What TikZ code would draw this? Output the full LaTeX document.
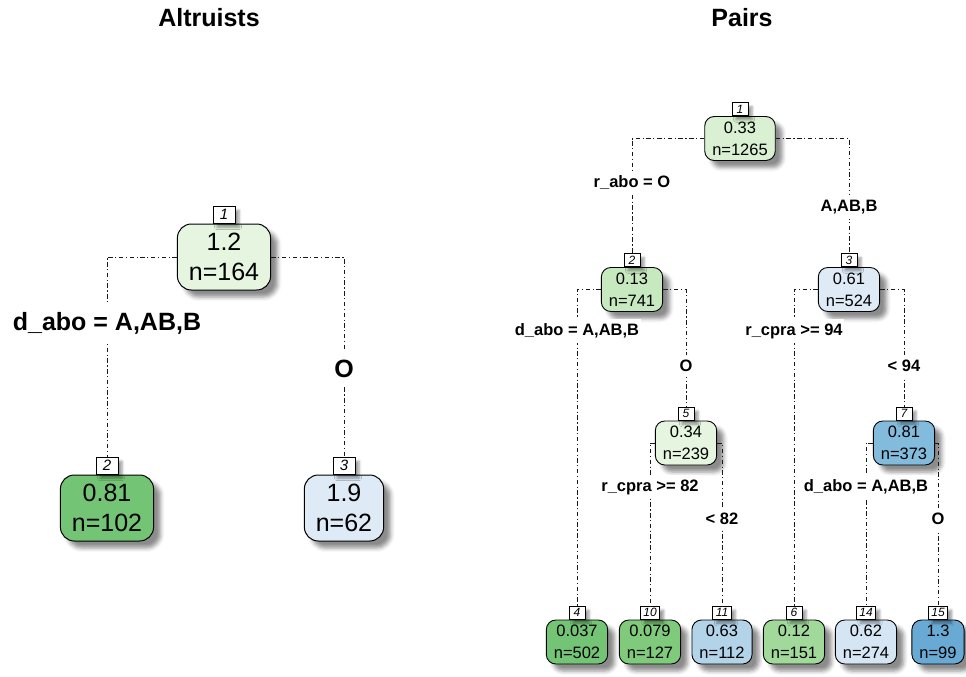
\documentclass[tikz,border=0pt]{standalone}
\usepackage{fontspec}
\setmainfont{Liberation Sans}
\usetikzlibrary{shadows.blur}

% node fills
\definecolor{cLroot}{HTML}{E5F5E0}
\definecolor{cLtwo}{HTML}{74C476}
\definecolor{cLthree}{HTML}{DEEBF7}
\definecolor{cRone}{HTML}{D9F0D3}
\definecolor{cRtwo}{HTML}{C7E9C0}
\definecolor{cRthree}{HTML}{DEEBF7}
\definecolor{cRfive}{HTML}{E5F5E0}
\definecolor{cRseven}{HTML}{82BBDB}
\definecolor{cRfour}{HTML}{74C476}
\definecolor{cRten}{HTML}{80CA7B}
\definecolor{cReleven}{HTML}{B3D3E8}
\definecolor{cRsix}{HTML}{A1D99B}
\definecolor{cRfourteen}{HTML}{D5E5F4}
\definecolor{cRfifteen}{HTML}{69AAD5}

\begin{document}
\begin{tikzpicture}[x=1pt,y=-1pt,
  boxshadow/.style={blur shadow={shadow xshift=7pt,shadow yshift=-7pt,
      shadow blur radius=4pt,shadow opacity=45}},
  numshadow/.style={blur shadow={shadow xshift=4pt,shadow yshift=-4pt,
      shadow blur radius=2.5pt,shadow opacity=40}},
  bigbox/.style={draw,line width=1pt,rounded corners=14pt,align=center,
      font=\fontsize{25}{30.5}\selectfont,inner xsep=11.5pt,inner ysep=0pt,
      minimum height=66pt,boxshadow},
  smallbox/.style={draw,line width=0.9pt,rounded corners=9.5pt,align=center,
      font=\fontsize{16.5}{22}\selectfont,inner xsep=7.5pt,inner ysep=0pt,
      minimum height=44pt,boxshadow},
  bignum/.style={draw,fill=white,line width=0.7pt,anchor=south,inner sep=0pt,
      font=\fontsize{15}{15}\selectfont\itshape,minimum width=22pt,
      minimum height=17pt,numshadow},
  smallnum/.style={draw,fill=white,line width=0.6pt,anchor=south,inner sep=0pt,
      font=\fontsize{12}{12}\selectfont\itshape,minimum width=16pt,
      minimum height=13pt,inner xsep=3pt,numshadow},
  conn/.style={draw=black!90,line width=0.9pt,
      dash pattern=on 4.5pt off 2.5pt on 1.2pt off 2.5pt},
  bigsplit/.style={fill=white,inner xsep=2pt,inner ysep=8pt,
      font=\fontsize{25}{25}\selectfont\bfseries},
  smallsplit/.style={fill=white,inner xsep=1.5pt,inner ysep=5pt,
      font=\fontsize{16.5}{16.5}\selectfont\bfseries},
  heading/.style={font=\fontsize{25}{25}\selectfont\bfseries,inner sep=0pt}
]
\useasboundingbox (0,0) rectangle (966,677);

% titles
\node[heading] (tAlt) at (209,18) {Altruists};
\node[heading] (tPairs) at (742,18) {Pairs};

% ---------- left tree ----------
\node[bigbox,fill=cLroot] (L1) at (224,257) {1.2\\n=164};
\node[bignum] (L1n) at (L1.north) {1};
\node[bigbox,fill=cLtwo] (L2) at (107,508) {0.81\\n=102};
\node[bignum] (L2n) at (L2.north) {2};
\node[bigbox,fill=cLthree] (L3) at (344,508) {1.9\\n=62};
\node[bignum] (L3n) at (L3.north) {3};

\draw[conn] (L1.west) -| (L2n.north);
\draw[conn] (L1.east) -| (L3n.north);

\node[bigsplit] (sL1) at (107,323) {d\_abo = A,AB,B};
\node[bigsplit] (sL2) at (344,369) {O};

% ---------- right tree ----------
\node[smallbox,fill=cRone] (R1) at (740,138.5) {0.33\\n=1265};
\node[smallnum] (R1n) at (R1.north) {1};
\node[smallbox,fill=cRtwo] (R2) at (632,289.5) {0.13\\n=741};
\node[smallnum] (R2n) at (R2.north) {2};
\node[smallbox,fill=cRthree] (R3) at (849,289.5) {0.61\\n=524};
\node[smallnum] (R3n) at (R3.north) {3};
\node[smallbox,fill=cRfive] (R5) at (686,443) {0.34\\n=239};
\node[smallnum] (R5n) at (R5.north) {5};
\node[smallbox,fill=cRseven] (R7) at (904,443) {0.81\\n=373};
\node[smallnum] (R7n) at (R7.north) {7};

\node[smallbox,fill=cRfour] (R4) at (577,642) {0.037\\n=502};
\node[smallnum] (R4n) at (R4.north) {4};
\node[smallbox,fill=cRten] (R10) at (650,642) {0.079\\n=127};
\node[smallnum] (R10n) at (R10.north) {10};
\node[smallbox,fill=cReleven] (R11) at (722,642) {0.63\\n=112};
\node[smallnum] (R11n) at (R11.north) {11};
\node[smallbox,fill=cRsix] (R6) at (794,642) {0.12\\n=151};
\node[smallnum] (R6n) at (R6.north) {6};
\node[smallbox,fill=cRfourteen] (R14) at (866,642) {0.62\\n=274};
\node[smallnum] (R14n) at (R14.north) {14};
\node[smallbox,fill=cRfifteen] (R15) at (938,642) {1.3\\n=99};
\node[smallnum] (R15n) at (R15.north) {15};

\draw[conn] (R1.west) -| (R2n.north);
\draw[conn] (R1.east) -| (R3n.north);
\draw[conn] (R2.west) -| (R4n.north);
\draw[conn] (R2.east) -| (R5n.north);
\draw[conn] (R3.west) -| (R6n.north);
\draw[conn] (R3.east) -| (R7n.north);
\draw[conn] (R5.west) -| (R10n.north);
\draw[conn] (R5.east) -| (R11n.north);
\draw[conn] (R7.west) -| (R14n.north);
\draw[conn] (R7.east) -| (R15n.north);

% split labels
\node[smallsplit] (sR1a) at (632,183) {r\_abo = O};
\node[smallsplit] (sR1b) at (849,207) {A,AB,B};
\node[smallsplit] (sR2a) at (577,331) {d\_abo = A,AB,B};
\node[smallsplit] (sR2b) at (686,366) {O};
\node[smallsplit] (sR3a) at (794,331) {r\_cpra >= 94};
\node[smallsplit] (sR3b) at (904,366) {< 94};
\node[smallsplit] (sR5a) at (650,487) {r\_cpra >= 82};
\node[smallsplit] (sR5b) at (722,519) {< 82};
\node[smallsplit] (sR7a) at (866,487) {d\_abo = A,AB,B};
\node[smallsplit] (sR7b) at (938,519) {O};
\end{tikzpicture}
\end{document}
